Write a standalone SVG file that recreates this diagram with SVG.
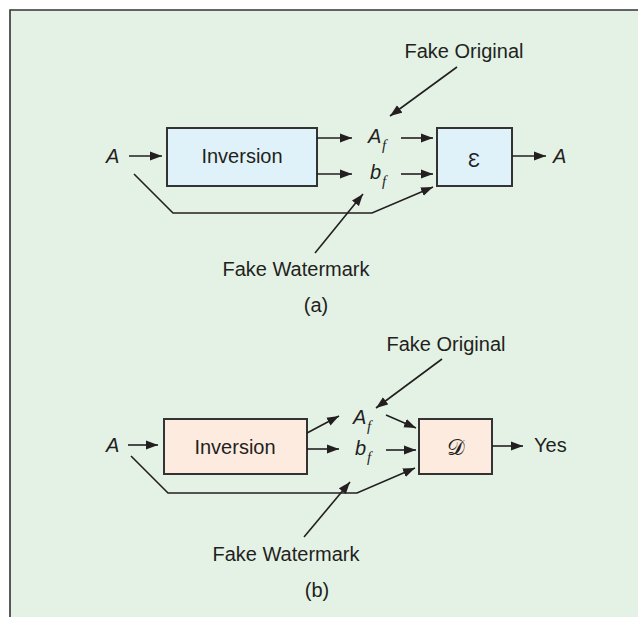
<svg xmlns="http://www.w3.org/2000/svg" width="638" height="617" viewBox="0 0 638 617">
<defs>
<marker id="ah" markerUnits="userSpaceOnUse" markerWidth="12" markerHeight="10" refX="12" refY="5" orient="auto">
<path d="M0,0.5 L12,5 L0,9.5 z" fill="#231f20"/>
</marker>
<style>
.lbl{font-family:"Liberation Sans",Arial,sans-serif;font-size:20px;fill:#231f20}
.it{font-family:"Liberation Sans",Arial,sans-serif;font-size:20px;font-style:italic;fill:#231f20}
.sub{font-family:"Liberation Serif","Times New Roman",serif;font-size:15px;font-style:italic;fill:#231f20}
.box{stroke:#333;stroke-width:2}
.conn{stroke:#231f20;stroke-width:1.6;fill:none}
.arr{marker-end:url(#ah)}
</style>
</defs>
<rect x="0" y="0" width="638" height="617" fill="#ffffff"/>
<rect x="10" y="10" width="628" height="607" fill="#e4f2e6"/>
<path d="M10,617 L10,10 L638,10" fill="none" stroke="#333" stroke-width="1.6"/>

<!-- Panel (a) -->
<g id="a-input"><text class="it" x="106" y="163">A</text></g>
<g id="a-inversion"><rect class="box" x="167" y="128" width="150" height="58" fill="#e0f2f9"/><text class="lbl" x="242" y="163" text-anchor="middle">Inversion</text></g>
<g id="a-Af"><text class="it" x="368" y="143">A</text><text class="sub" x="382" y="150">f</text></g>
<g id="a-bf"><text class="it" x="370" y="179">b</text><text class="sub" x="382" y="186">f</text></g>
<g id="a-encoder"><rect class="box" x="437" y="128" width="75" height="58" fill="#e0f2f9"/><text class="lbl" x="474" y="167" text-anchor="middle" font-size="27">Ɛ</text></g>
<g id="a-output"><text class="it" x="553" y="163">A</text></g>
<g id="a-fake-original"><text class="lbl" x="464" y="58" text-anchor="middle">Fake Original</text></g>
<g id="a-fake-watermark"><text class="lbl" x="296" y="276" text-anchor="middle">Fake Watermark</text></g>
<g id="a-caption"><text class="lbl" x="316" y="312" text-anchor="middle">(a)</text></g>

<!-- Panel (b) -->
<g id="b-input"><text class="it" x="106" y="452">A</text></g>
<g id="b-inversion"><rect class="box" x="164" y="419" width="143" height="55" fill="#fdebe0"/><text class="lbl" x="235" y="454" text-anchor="middle">Inversion</text></g>
<g id="b-Af"><text class="it" x="353" y="424">A</text><text class="sub" x="367" y="431">f</text></g>
<g id="b-bf"><text class="it" x="355" y="455">b</text><text class="sub" x="367" y="462">f</text></g>
<g id="b-detector"><rect class="box" x="419" y="419" width="73" height="55" fill="#fdebe0"/><text x="456" y="455" text-anchor="middle" font-family="'DejaVu Serif','Liberation Serif',serif" font-size="22" fill="#231f20">𝒟</text></g>
<g id="b-output"><text class="lbl" x="534" y="452">Yes</text></g>
<g id="b-fake-original"><text class="lbl" x="446" y="351" text-anchor="middle">Fake Original</text></g>
<g id="b-fake-watermark"><text class="lbl" x="286" y="561" text-anchor="middle">Fake Watermark</text></g>
<g id="b-caption"><text class="lbl" x="317" y="597" text-anchor="middle">(b)</text></g>

<g id="connectors">
<!-- (a) -->
<line class="conn arr" x1="129" y1="156" x2="162" y2="156"/>
<line class="conn arr" x1="317" y1="138" x2="352" y2="138"/>
<line class="conn arr" x1="317" y1="174" x2="352" y2="174"/>
<line class="conn arr" x1="401" y1="138" x2="433" y2="138"/>
<line class="conn arr" x1="401" y1="174" x2="433" y2="174"/>
<line class="conn arr" x1="512" y1="156" x2="546" y2="156"/>
<polyline class="conn arr" points="134,174 173,213 372,213 433,187"/>
<line class="conn arr" x1="457" y1="67" x2="390" y2="116"/>
<line class="conn arr" x1="315" y1="253" x2="363" y2="194"/>
<!-- (b) -->
<line class="conn arr" x1="128" y1="445" x2="158" y2="445"/>
<line class="conn arr" x1="307" y1="433" x2="339" y2="416"/>
<line class="conn arr" x1="307" y1="449" x2="339" y2="449"/>
<line class="conn arr" x1="386" y1="415" x2="416" y2="428"/>
<line class="conn arr" x1="386" y1="450" x2="416" y2="450"/>
<line class="conn arr" x1="492" y1="446" x2="523" y2="446"/>
<polyline class="conn arr" points="131,456 168,493 357,493 415,468"/>
<line class="conn arr" x1="442" y1="359" x2="376" y2="408"/>
<line class="conn arr" x1="304" y1="537" x2="350" y2="482"/>
</g>
</svg>
